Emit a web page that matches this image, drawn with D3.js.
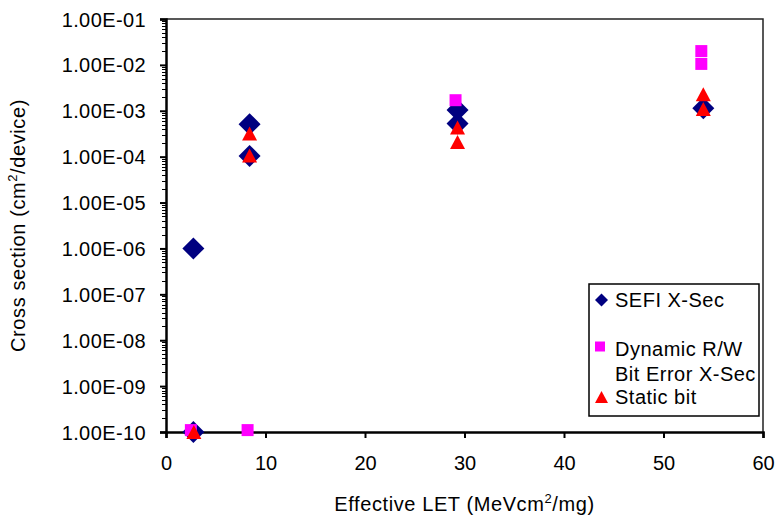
<!DOCTYPE html>
<html>
<head>
<meta charset="utf-8">
<script src="https://cdn.jsdelivr.net/npm/d3@7"></script>
<style>
  html, body { margin: 0; padding: 0; background: #fff; }
  svg { display: block; font-family: "Liberation Sans", Arial, sans-serif; }
</style>
</head>
<body>
<svg id="chart" width="775" height="518"></svg>
<script>
// SEFI cross section vs effective LET
const sefiLET = [2.75, 2.75, 8.4, 8.4, 29.3, 29.3, 54.0];
const sefiXS  = [1.0e-10, 1.0e-6, 5.1e-4, 1.04e-4, 1.04e-3, 5.3e-4, 1.13e-3];

// Dynamic read/write bit error cross section
const dynLET = [2.5, 8.2, 29.1, 53.8, 53.8];
const dynXS  = [1.1e-10, 1.1e-10, 1.7e-3, 1.05e-2, 2.0e-2];

// Static bit error cross section
const statLET = [2.8, 8.4, 8.4, 29.3, 29.3, 54.0, 54.0];
const statXS  = [1.0e-10, 3.2e-4, 1.06e-4, 4.3e-4, 2.1e-4, 2.3e-3, 1.1e-3];

const xTicks = [0, 10, 20, 30, 40, 50, 60];
const yTicks = [1e-10, 1e-9, 1e-8, 1e-7, 1e-6, 1e-5, 1e-4, 1e-3, 1e-2, 1e-1];

const svg = d3.select("#chart");
const L = 166, R = 763, T = 19, B = 432;

const x = d3.scaleLinear().domain([0, 60]).range([L, R]);
const y = d3.scaleLog().domain([1e-10, 1e-1]).range([B, T]);

const fmtExp = v => {
  const e = Math.round(Math.log10(v));
  const s = Math.abs(e) < 10 ? "0" + Math.abs(e) : String(Math.abs(e));
  return "1.00E" + (e < 0 ? "-" : "+") + s;
};

// plot frame (top and right)
svg.append("path")
  .attr("d", `M${L},${T}H${R}V${B}`)
  .attr("fill", "none").attr("stroke", "#222").attr("stroke-width", 1.5);

// minor log ticks on the y axis
const minor = [];
for (let e = -10; e < -1; e++) for (let k = 2; k <= 9; k++) minor.push(k * Math.pow(10, e));
svg.append("g").selectAll("line").data(minor).join("line")
  .attr("x1", L - 4).attr("x2", L)
  .attr("y1", d => Math.round(y(d)) + 0.5).attr("y2", d => Math.round(y(d)) + 0.5)
  .attr("stroke", "#000").attr("stroke-width", 1);

// y axis
const yAxis = svg.append("g").attr("transform", `translate(${L},0)`)
  .call(d3.axisLeft(y).tickValues(yTicks).tickFormat(fmtExp).tickSize(6).tickPadding(14));
yAxis.select(".domain").attr("stroke-width", 2.5);
yAxis.selectAll(".tick line").attr("stroke-width", 2);
yAxis.selectAll(".tick text")
  .attr("font-size", 20).attr("font-family", "Liberation Sans, Arial, sans-serif")
  .attr("letter-spacing", 0.4).attr("fill", "#000").attr("dy", "0.35em");

// x axis
const xAxis = svg.append("g").attr("transform", `translate(0,${B})`)
  .call(d3.axisBottom(x).tickValues(xTicks).tickFormat(d3.format("d")).tickSize(6).tickPadding(8));
xAxis.select(".domain").attr("stroke-width", 2.5);
xAxis.selectAll(".tick line").attr("stroke-width", 2);
xAxis.selectAll(".tick text")
  .attr("font-size", 20).attr("font-family", "Liberation Sans, Arial, sans-serif")
  .attr("fill", "#000").attr("dy", "1.2em");

// axis titles
const xt = svg.append("text")
  .attr("x", (L + R) / 2).attr("y", 511).attr("text-anchor", "middle")
  .attr("font-size", 20).attr("letter-spacing", 0.6).attr("fill", "#000");
xt.append("tspan").text("Effective LET (MeVcm");
xt.append("tspan").attr("font-size", 13).attr("dy", -8).text("2");
xt.append("tspan").attr("dy", 8).text("/mg)");

const yt = svg.append("text")
  .attr("transform", `translate(25,${(T + B) / 2}) rotate(-90)`)
  .attr("text-anchor", "middle")
  .attr("font-size", 20).attr("letter-spacing", 0.6).attr("fill", "#000");
yt.append("tspan").text("Cross section (cm");
yt.append("tspan").attr("font-size", 13).attr("dy", -8).text("2");
yt.append("tspan").attr("dy", 8).text("/device)");

// marker shapes
const diamond = s => `M0,${-s}L${s},0L0,${s}L${-s},0Z`;
const square = s => `M${-s},${-s}H${s}V${s}H${-s}Z`;
const triangle = (w, h) => `M0,${-h / 2}L${w / 2},${h / 2}L${-w / 2},${h / 2}Z`;

const plot = svg.append("g");

function series(xs, ys, path, color) {
  plot.append("g").selectAll("path").data(xs.map((v, i) => [v, ys[i]])).join("path")
    .attr("d", path)
    .attr("transform", d => `translate(${x(d[0])},${y(d[1])})`)
    .attr("fill", color);
}

series(sefiLET, sefiXS, diamond(11), "#000080");
series(dynLET, dynXS, square(6), "#FF00FF");
series(statLET, statXS, triangle(15, 14), "#FF0000");

// legend
const lg = svg.append("g");
lg.append("rect")
  .attr("x", 589).attr("y", 284).attr("width", 170).attr("height", 132)
  .attr("fill", "#fff").attr("stroke", "#000").attr("stroke-width", 1.5);

lg.append("path").attr("d", diamond(6.5)).attr("transform", "translate(601.5,300)").attr("fill", "#000080");
lg.append("path").attr("d", square(5)).attr("transform", "translate(600,346.5)").attr("fill", "#FF00FF");
lg.append("path").attr("d", triangle(13, 12)).attr("transform", "translate(601.5,397)").attr("fill", "#FF0000");

const legendText = [
  ["SEFI X-Sec", 306.5],
  ["Dynamic R/W", 355.5],
  ["Bit Error X-Sec", 380.5],
  ["Static bit", 403.5]
];
lg.selectAll("text.lbl").data(legendText).join("text")
  .attr("class", "lbl")
  .attr("x", 615).attr("y", d => d[1])
  .attr("font-size", 20).attr("letter-spacing", 0.5).attr("fill", "#000")
  .text(d => d[0]);
</script>
</body>
</html>
